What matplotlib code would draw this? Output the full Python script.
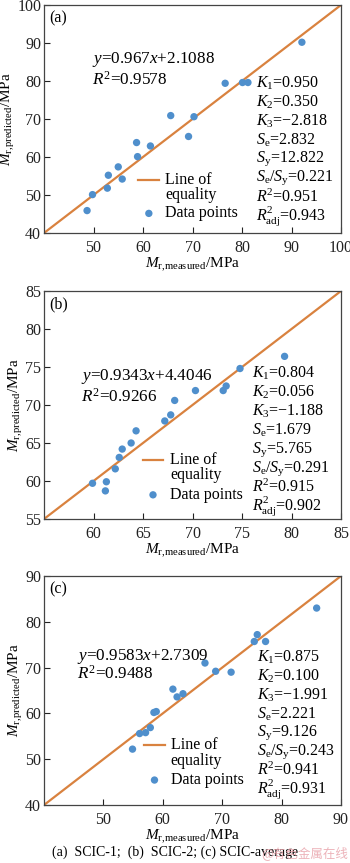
import matplotlib
matplotlib.use("Agg")
import matplotlib.pyplot as plt
from matplotlib.lines import Line2D

plt.rcParams['font.family'] = ['Liberation Serif', 'DejaVu Serif']
plt.rcParams['mathtext.fontset'] = 'custom'
plt.rcParams['mathtext.rm'] = 'Liberation Serif'
plt.rcParams['mathtext.it'] = 'Liberation Serif:italic'

# ---- data ----
a_x = [48.7, 49.8, 52.8, 53.0, 55.0, 55.8, 58.7, 58.9, 61.5, 65.6, 69.2, 70.3, 76.6, 80.1, 81.2, 92.1]
a_y = [45.9, 50.1, 51.8, 55.2, 57.4, 54.2, 63.8, 60.1, 62.9, 70.9, 65.4, 70.6, 79.4, 79.6, 79.6, 90.2]
b_x = [59.9, 61.2, 61.3, 62.2, 62.6, 62.9, 63.8, 64.3, 67.2, 67.8, 68.2, 70.3, 73.1, 73.4, 74.8, 79.3]
b_y = [59.7, 58.7, 59.9, 61.6, 63.1, 64.2, 65.0, 66.6, 67.9, 68.7, 70.6, 71.9, 71.9, 72.5, 74.8, 76.4]
c_x = [54.9, 56.1, 57.1, 57.9, 58.5, 58.9, 61.7, 62.4, 63.4, 67.1, 68.9, 71.5, 75.4, 75.9, 77.3, 85.9]
c_y = [52.2, 55.6, 55.8, 56.9, 60.2, 60.4, 65.3, 63.6, 64.3, 71.0, 69.2, 69.0, 75.7, 77.2, 75.7, 83.0]

a_lim = (40, 100); a_ticks = [40, 50, 60, 70, 80, 90, 100]
b_lim = (55, 85); b_ticks = [55, 60, 65, 70, 75, 80, 85]
c_lim = (40, 90); c_ticks = [40, 50, 60, 70, 80, 90]

a_eq = ["$y$=0.967$x$+2.1088", "$R^2$=0.9578"]
b_eq = ["$y$=0.9343$x$+4.4046", "$R^2$=0.9266"]
c_eq = ["$y$=0.9583$x$+2.7309", "$R^2$=0.9488"]

a_stats = ["0.950", "0.350", "\u22122.818", "2.832", "12.822", "0.221", "0.951", "0.943"]
b_stats = ["0.804", "0.056", "\u22121.188", "1.679", "5.765", "0.291", "0.915", "0.902"]
c_stats = ["0.875", "0.100", "\u22121.991", "2.221", "9.126", "0.243", "0.941", "0.931"]
stat_names = ["$K_1$", "$K_2$", "$K_3$", "$S_\\mathrm{e}$", "$S_\\mathrm{y}$",
              "$S_\\mathrm{e}/S_\\mathrm{y}$", "$R^2$", "$R^2_\\mathrm{adj}$"]

panel_tags = ["(a)", "(b)", "(c)"]
caption = "(a)  SCIC-1;  (b)  SCIC-2; (c) SCIC-average"

# ---- layout ----
W, H = 350, 863
fig = plt.figure(figsize=(W / 100, H / 100), dpi=100)
fig.patch.set_facecolor('white')

line_col = '#D9823F'
dot_col = '#4F8FCC'

panels = [
    dict(x=a_x, y=a_y, lim=a_lim, ticks=a_ticks, eq=a_eq, st=a_stats, top=5, bot=233,
         eqpos=(0.162, 0.759, 0.671), stpos=(0.714, 0.656, 0.075),
         lg=(0.318, 0.388, 0.407, 0.232, 0.167, 0.086)),
    dict(x=b_x, y=b_y, lim=b_lim, ticks=b_ticks, eq=b_eq, st=b_stats, top=291, bot=519,
         eqpos=(0.123, 0.625, 0.534), stpos=(0.701, 0.639, 0.055),
         lg=(0.332, 0.402, 0.424, 0.26, 0.194, 0.106)),
    dict(x=c_x, y=c_y, lim=c_lim, ticks=c_ticks, eq=c_eq, st=c_stats, top=576, bot=805,
         eqpos=(0.112, 0.647, 0.574), stpos=(0.716, 0.644, 0.068),
         lg=(0.337, 0.407, 0.426, 0.262, 0.193, 0.109)),
]

fs_tick = 11.5
fs_eq = 12.3
fs_st = 11.5
fs_lab = 11
for i, p in enumerate(panels):
    left, right = 44, 341
    ax = fig.add_axes([left / W, 1 - p['bot'] / H, (right - left) / W, (p['bot'] - p['top']) / H])
    lo, hi = p['lim']
    ax.plot([lo, hi], [lo, hi], color=line_col, lw=1.6, zorder=2)
    ax.scatter(p['x'], p['y'], s=28, color=dot_col, edgecolors='none', zorder=3)
    ax.set_xlim(lo, hi); ax.set_ylim(lo, hi)
    ax.set_xticks(p['ticks'][1:]); ax.set_yticks(p['ticks'])
    ax.tick_params(direction='in', length=4, width=0.8, labelsize=fs_tick, colors='#222222', pad=2)
    ax.tick_params(axis='x', pad=5)
    for s in ax.spines.values():
        s.set_color('#444444'); s.set_linewidth(0.9)
    ax.set_xlabel("$M_\\mathrm{r{,}measured}$/MPa", fontsize=fs_lab, labelpad=0)
    ax.set_ylabel("$M_\\mathrm{r{,}predicted}$/MPa", fontsize=fs_lab, labelpad=0)
    ax.text(0.018, 0.94, panel_tags[i], transform=ax.transAxes, fontsize=fs_st, va='center', ha='left')
    ex, ey1, ey2 = p['eqpos']
    ax.text(ex, ey1, p['eq'][0], transform=ax.transAxes, fontsize=fs_eq, va='center', ha='left')
    ax.text(ex, ey2, p['eq'][1], transform=ax.transAxes, fontsize=fs_eq, va='center', ha='left')
    sx, sy0, sy1 = p['stpos']
    n = len(stat_names)
    for k in range(n):
        yy = sy0 + (sy1 - sy0) * k / (n - 1)
        ax.text(sx, yy, stat_names[k] + "=" + p['st'][k], transform=ax.transAxes,
                fontsize=fs_st, va='center', ha='left')
    l0, l1, tx, y1, y2, y3 = p['lg']
    ax.add_line(Line2D([l0, l1], [y1, y1], transform=ax.transAxes, color=line_col, lw=1.6))
    ax.text(tx, y1, "Line of", transform=ax.transAxes, fontsize=fs_st, va='center', ha='left')
    ax.text(tx, y2, "equality", transform=ax.transAxes, fontsize=fs_st, va='center', ha='left')
    ax.scatter([(l0 + l1) / 2], [y3], s=28, color=dot_col, edgecolors='none', transform=ax.transAxes)
    ax.text(tx, y3, "Data points", transform=ax.transAxes, fontsize=fs_st, va='center', ha='left')

fig.text(0.5, 1 - 852 / H, caption, fontsize=10, ha='center', va='center')
fig.text(0.995, 1 - 853 / H, "@有色金属在线", fontsize=9, ha='right', va='center', color='#E8A0A8',
         alpha=0.8, family=['Noto Sans CJK SC', 'DejaVu Sans'])

fig.savefig("out.png", dpi=100)
